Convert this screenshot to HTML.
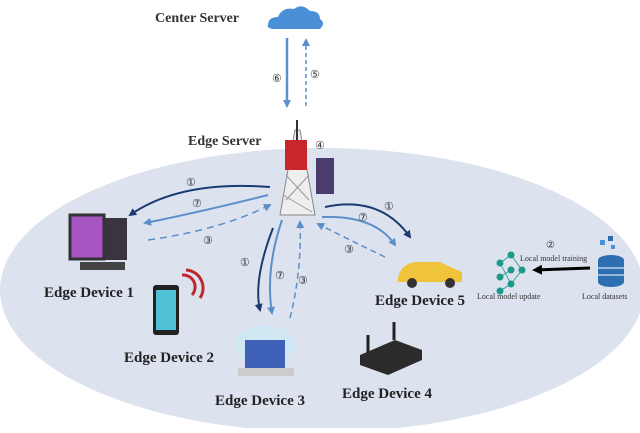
<!DOCTYPE html>
<html><head><meta charset="utf-8"><style>
html,body{margin:0;padding:0;background:#fff;}
svg text{font-family:"Liberation Serif",serif;}
</style></head><body>
<svg width="640" height="428" viewBox="0 0 640 428" xmlns="http://www.w3.org/2000/svg">
<defs>
<marker id="ad" markerWidth="8" markerHeight="8" refX="6" refY="4" orient="auto" markerUnits="userSpaceOnUse"><path d="M0,0 L8,4 L0,8 z" fill="#1b3a72"/></marker>
<marker id="al" markerWidth="8" markerHeight="8" refX="6" refY="4" orient="auto" markerUnits="userSpaceOnUse"><path d="M0,0 L8,4 L0,8 z" fill="#5b8fc9"/></marker>
<marker id="ak" markerWidth="10" markerHeight="10" refX="7" refY="5" orient="auto" markerUnits="userSpaceOnUse"><path d="M0,0 L10,5 L0,10 z" fill="#000"/></marker>
</defs>
<ellipse cx="322" cy="290" rx="322" ry="142" fill="#dde2ef"/>
<path d="M268,25 q0,-8 10,-8 q4,-10 16,-8 q8,-6 16,2 q10,0 10,8 q6,4 0,10 h-48 q-6,-2 -4,-4z" fill="#4a90d9"/>
<text x="155" y="22" font-size="14" font-weight="bold" fill="#333">Center Server</text>
<line x1="287" y1="38" x2="287" y2="106" stroke="#5b8fc9" stroke-width="2.5" marker-end="url(#al)"/>
<line x1="306" y1="106" x2="306" y2="40" stroke="#5b8fc9" stroke-width="1.5" stroke-dasharray="4,3" marker-end="url(#al)"/>
<text x="272" y="82" font-size="11" fill="#333">⑥</text>
<text x="310" y="78" font-size="11" fill="#333">⑤</text>
<text x="188" y="145" font-size="14" font-weight="bold" fill="#333">Edge Server</text>
<polygon points="295,130 280,215 315,215 300,130" fill="#eee" stroke="#888"/>
<path d="M286,175 L309,200 M309,175 L286,200 M283,195 L312,212" stroke="#999" stroke-width="1"/>
<rect x="285" y="140" width="22" height="30" fill="#c8262c"/>
<line x1="297" y1="120" x2="297" y2="140" stroke="#333" stroke-width="2"/>
<text x="315" y="149" font-size="11" fill="#333">④</text>
<rect x="316" y="158" width="18" height="36" fill="#4a3d6e"/>
<path d="M270,187 Q180,180 130,215" fill="none" stroke="#1b3a72" stroke-width="2" marker-end="url(#ad)"/>
<path d="M268,195 Q200,212 145,223" fill="none" stroke="#5b8fc9" stroke-width="2" marker-end="url(#al)"/>
<path d="M148,240 Q220,230 270,205" fill="none" stroke="#5b8fc9" stroke-width="1.5" stroke-dasharray="7,5" marker-end="url(#al)"/>
<text x="186" y="186" font-size="11" fill="#333">①</text>
<text x="192" y="207" font-size="11" fill="#333">⑦</text>
<text x="203" y="244" font-size="11" fill="#333">③</text>
<path d="M273,228 Q253,280 260,310" fill="none" stroke="#1b3a72" stroke-width="2" marker-end="url(#ad)"/>
<path d="M282,220 Q265,270 272,313" fill="none" stroke="#5b8fc9" stroke-width="2" marker-end="url(#al)"/>
<path d="M290,318 Q302,270 300,222" fill="none" stroke="#5b8fc9" stroke-width="1.5" stroke-dasharray="6,4" marker-end="url(#al)"/>
<text x="240" y="266" font-size="11" fill="#333">①</text>
<text x="275" y="279" font-size="11" fill="#333">⑦</text>
<text x="298" y="284" font-size="11" fill="#333">③</text>
<path d="M325,207 Q380,195 410,237" fill="none" stroke="#1b3a72" stroke-width="2" marker-end="url(#ad)"/>
<path d="M322,217 Q375,215 395,245" fill="none" stroke="#5b8fc9" stroke-width="2" marker-end="url(#al)"/>
<path d="M385,257 Q350,240 318,224" fill="none" stroke="#5b8fc9" stroke-width="1.5" stroke-dasharray="6,4" marker-end="url(#al)"/>
<text x="384" y="210" font-size="11" fill="#333">①</text>
<text x="358" y="221" font-size="11" fill="#333">⑦</text>
<text x="344" y="253" font-size="11" fill="#333">③</text>
<rect x="70" y="215" width="34" height="44" fill="#a855c4" stroke="#333" stroke-width="3"/>
<rect x="105" y="218" width="22" height="42" fill="#3a3440"/>
<rect x="80" y="262" width="45" height="8" fill="#444"/>
<text x="44" y="297" font-size="15" font-weight="bold" fill="#222">Edge Device 1</text>
<rect x="153" y="285" width="26" height="50" rx="3" fill="#222"/>
<rect x="156" y="290" width="20" height="40" fill="#4fc1d6"/>
<path d="M182,275 a12,12 0 0 1 10,20 M186,270 a18,18 0 0 1 14,28" fill="none" stroke="#c0272d" stroke-width="3"/>
<text x="124" y="362" font-size="15" font-weight="bold" fill="#222">Edge Device 2</text>
<ellipse cx="265" cy="345" rx="30" ry="20" fill="#cfe7f3"/>
<rect x="245" y="340" width="40" height="28" fill="#3f62b8"/>
<rect x="238" y="368" width="56" height="8" fill="#ccc"/>
<text x="215" y="405" font-size="15" font-weight="bold" fill="#222">Edge Device 3</text>
<line x1="368" y1="335" x2="368" y2="355" stroke="#222" stroke-width="3"/>
<line x1="394" y1="322" x2="394" y2="340" stroke="#222" stroke-width="3"/>
<polygon points="360,355 395,340 422,350 422,360 388,375 360,365" fill="#2b2b2b"/>
<text x="342" y="398" font-size="15" font-weight="bold" fill="#222">Edge Device 4</text>
<path d="M398,278 Q400,265 415,262 L440,262 Q452,268 462,272 L462,282 L398,282z" fill="#f0c43a"/>
<circle cx="412" cy="283" r="5" fill="#333"/><circle cx="450" cy="283" r="5" fill="#333"/>
<text x="375" y="305" font-size="15" font-weight="bold" fill="#222">Edge Device 5</text>
<g fill="#1a9a8a"><circle cx="500" cy="263" r="3.5"/><circle cx="500" cy="277" r="3.5"/><circle cx="500" cy="291" r="3.5"/><circle cx="511" cy="255" r="3.5"/><circle cx="511" cy="270" r="3.5"/><circle cx="511" cy="284" r="3.5"/><circle cx="522" cy="270" r="3.5"/></g>
<g stroke="#1a9a8a" stroke-width="0.8"><line x1="500" y1="263" x2="511" y2="255"/><line x1="500" y1="263" x2="511" y2="284"/><line x1="500" y1="277" x2="511" y2="270"/><line x1="500" y1="291" x2="511" y2="284"/><line x1="511" y1="255" x2="522" y2="270"/><line x1="511" y1="284" x2="522" y2="270"/></g>
<line x1="590" y1="268" x2="535" y2="270" stroke="#000" stroke-width="3" marker-end="url(#ak)"/>
<text x="546" y="248" font-size="10" fill="#333">②</text>
<text x="520" y="261" font-size="8" fill="#333">Local model training</text>
<text x="477" y="299" font-size="8" fill="#333">Local model update</text>
<text x="582" y="299" font-size="8" fill="#333">Local datasets</text>
<g fill="#2d6fb0"><ellipse cx="611" cy="260" rx="13" ry="5"/><rect x="598" y="260" width="26" height="22"/><ellipse cx="611" cy="282" rx="13" ry="5"/></g>
<line x1="598" y1="268" x2="624" y2="268" stroke="#fff"/><line x1="598" y1="275" x2="624" y2="275" stroke="#fff"/>
<rect x="600" y="240" width="5" height="5" fill="#4a90d9"/><rect x="608" y="236" width="5" height="5" fill="#2d6fb0"/><rect x="611" y="245" width="4" height="4" fill="#4a90d9"/>
</svg>
</body></html>
